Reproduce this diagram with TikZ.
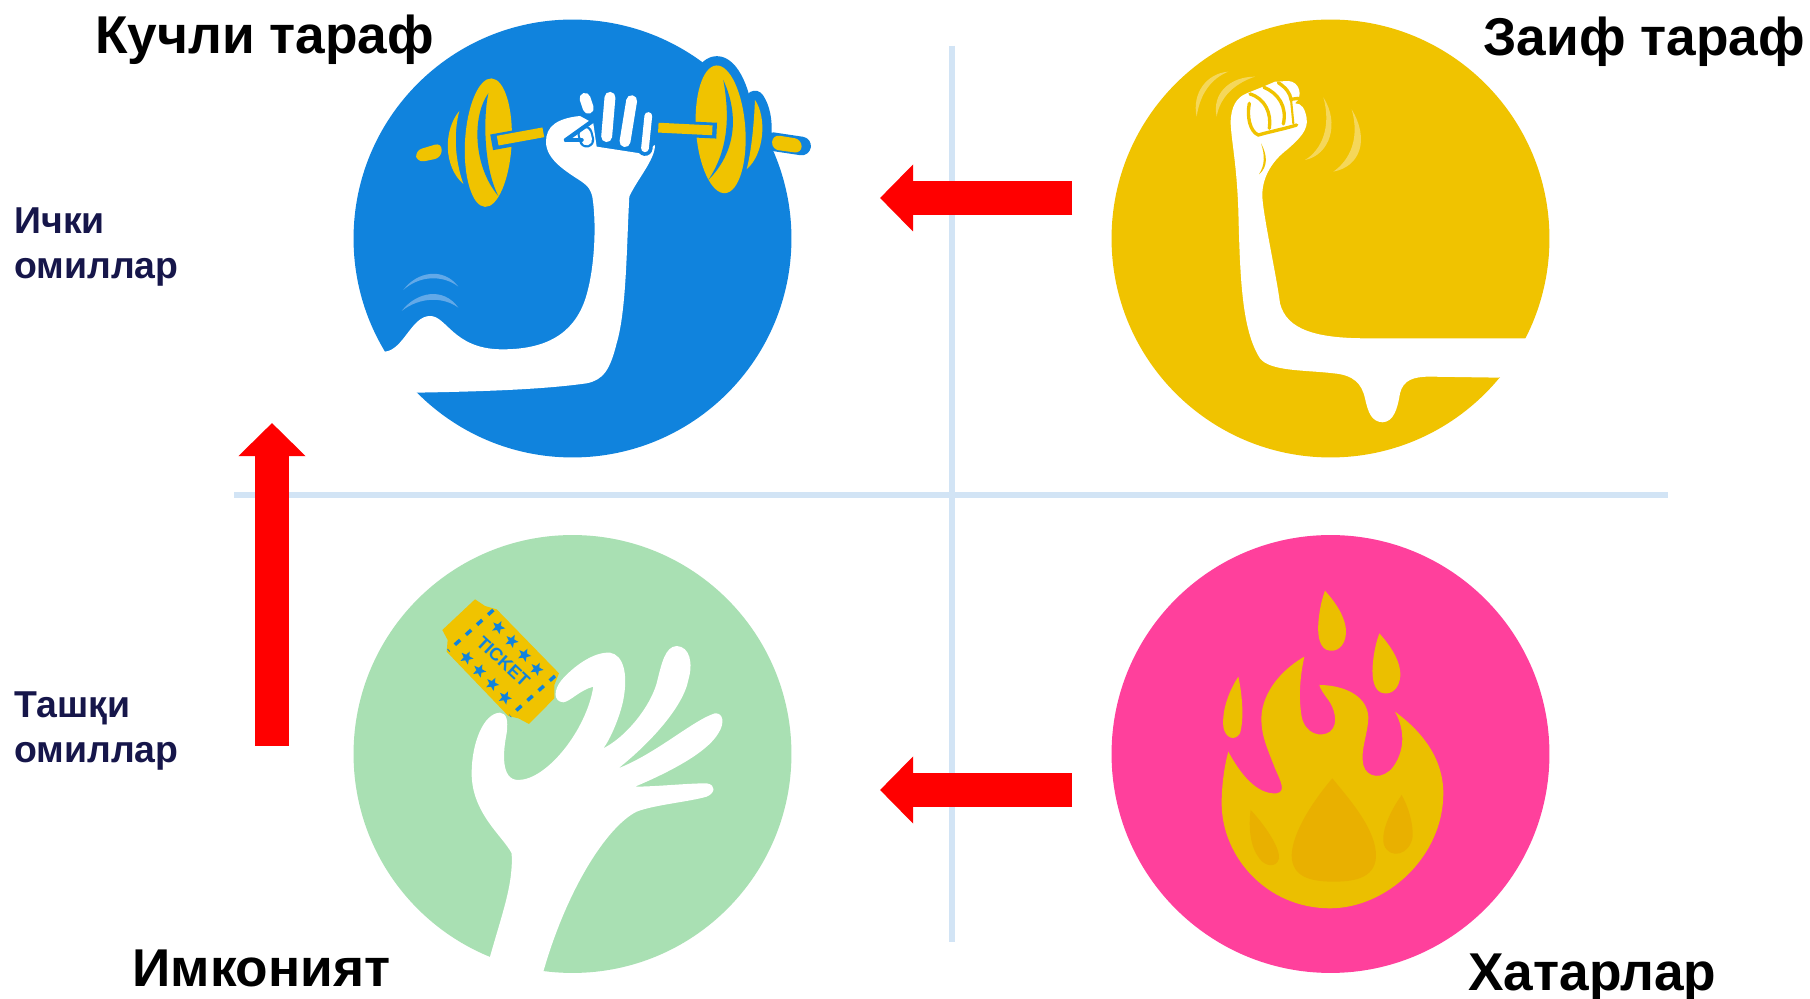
\documentclass[tikz,border=0pt]{standalone}
\usepackage{fontspec}
\setmainfont{Liberation Sans}
\usepackage{xcolor}
\usetikzlibrary{arrows.meta}
\definecolor{strongblue}{HTML}{1083DD}
\definecolor{waveblue}{HTML}{62A9E8}
\definecolor{weakyellow}{HTML}{F0C300}
\definecolor{waveyellow}{HTML}{F5D75A}
\definecolor{chancegreen}{HTML}{A9E0B3}
\definecolor{threatpink}{HTML}{FF409C}
\definecolor{flamecore}{HTML}{E9B000}
\definecolor{axisblue}{HTML}{D2E4F5}
\definecolor{labelnavy}{HTML}{16164A}
\tikzset{
  quadcircle/.style={
    circle,
    minimum size=8.76cm,
    inner sep=0pt
  },
  cropped/.style 2 args={
    shift={(#1,#2)},
    x=0.006667cm,
    y=-0.006667cm
  },
  axisline/.style={
    draw=axisblue,
    line width=3.4pt
  },
  bigarrow/.style={
    -{Triangle[length=18.8pt,width=37pt]},
    line width=18.8pt,
    draw=red
  },
  titletext/.style={
    anchor=base west,
    inner sep=0pt,
    font=\bfseries\fontsize{30.3}{32}\selectfont
  },
  sidelabel/.style={
    anchor=base west,
    align=left,
    inner sep=0pt,
    text=labelnavy,
    font=\bfseries\fontsize{21.3}{26}\selectfont
  },
  fingerout/.style={
    draw=strongblue,
    line width=8.6pt,
    line cap=round
  },
  fingerin/.style={
    draw=white,
    line width=6.2pt,
    line cap=round
  },
  fistline/.style={
    draw=weakyellow,
    line width=1.9pt,
    line cap=round
  },
  platerim/.style={
    draw=strongblue,
    line width=10.6pt,
    line join=round,
    line cap=round
  }
}
\begin{document}
\begin{tikzpicture}[x=0.02cm,y=-0.02cm]
    \useasboundingbox (0,0) rectangle (1810,999);
    \fill[white] (0,0) rectangle (1810,999);

    \coordinate (vtop) at (952,46);
    \coordinate (vbot) at (952,942);
    \coordinate (hleft) at (234,495);
    \coordinate (hright) at (1668,495);
    \draw[axisline] (vtop) -- (vbot);
    \draw[axisline] (hleft) -- (hright);

    \node[quadcircle, fill=strongblue] (strong) at (572.5,238.5) {};
    \node[quadcircle, fill=weakyellow] (weak) at (1330.5,238.5) {};
    \node[quadcircle, fill=chancegreen] (chance) at (572.5,754) {};
    \node[quadcircle, fill=threatpink] (threat) at (1330.5,754) {};

    % barbell
    \begin{scope}[cropped={400}{50}]
        \fill[weakyellow, rounded corners=4pt] (45,302) -- (125,278) -- (125,323) -- (52,338) -- cycle;
        \fill[weakyellow] (178,183) .. controls (130,240) and (130,350) .. (190,402)
            .. controls (165,330) and (160,250) .. (178,183);
        \fill[weakyellow, rotate around={-3:(265,278)}] (265,278) ellipse (70 and 193);
        \fill[strongblue] (265,130) .. controls (215,200) and (220,350) .. (295,438)
            .. controls (250,350) and (250,200) .. (265,130);
        \draw[strongblue, line width=9pt] (275,277) -- (435,248);
        \draw[weakyellow, line width=5.6pt] (293,272) -- (430,247);
        % right side, its blue rim runs over the circle edge
        \draw[platerim] (1065,150) .. controls (1100,200) and (1095,310) .. (1040,358);
        \draw[platerim] (1118,275) -- (1205,288);
        \draw[platerim, rotate around={4:(962,238)}] (962,238) ellipse (74 and 192);
        \fill[weakyellow, rotate around={4:(962,238)}] (962,238) ellipse (74 and 192);
        \draw[strongblue, line width=9pt] (780,234) -- (950,242);
        \draw[weakyellow, line width=5.6pt] (775,233) -- (937,241);
        \fill[strongblue] (970,90) .. controls (1020,200) and (1005,310) .. (925,390)
            .. controls (985,300) and (990,200) .. (970,90);
        \fill[weakyellow] (1065,150) .. controls (1100,200) and (1095,310) .. (1040,358)
            .. controls (1055,300) and (1062,220) .. (1065,150);
        \fill[weakyellow, rounded corners=4pt] (1118,254) -- (1205,268) -- (1205,310) -- (1115,298) -- cycle;
    \end{scope}

    % blue arm
    \begin{scope}[cropped={340}{10}]
        \fill[white] (135,1025) .. controls (190,1020) and (215,918) .. (270,918)
            .. controls (320,918) and (340,1015) .. (480,1018)
            .. controls (620,1020) and (700,970) .. (735,870)
            .. controls (765,780) and (770,640) .. (757,560)
            .. controls (750,535) and (745,530) .. (725,515)
            .. controls (680,485) and (618,450) .. (618,395)
            .. controls (618,350) and (650,325) .. (720,318)
            -- (760,340) -- (770,410) -- (900,430) -- (945,405)
            .. controls (945,450) and (890,510) .. (868,560)
            .. controls (860,700) and (860,900) .. (830,1000)
            .. controls (810,1080) and (790,1110) .. (740,1120)
            .. controls (600,1140) and (400,1145) .. (232,1148)
            -- (120,1150) -- cycle;
        \foreach \xa/\ya/\xb/\yb in {735/265/745/295,735/370/740/390,810/262/800/380,875/272/855/395,925/318/915/415}{
            \draw[fingerout] (\xa,\ya) -- (\xb,\yb);
        }
        \foreach \xa/\ya/\xb/\yb in {735/265/745/295,735/370/740/390,810/262/800/380,875/272/855/395}{
            \draw[fingerin] (\xa,\ya) -- (\xb,\yb);
        }
        \draw[white, line width=4.4pt, line cap=round] (925,318) -- (915,415);
        \draw[strongblue, line width=2.4pt, line cap=round] (678,390) -- (755,335);
        \draw[strongblue, line width=2.4pt, line cap=round] (678,390) -- (725,390);
        \fill[waveblue] (190,840) .. controls (230,785) and (310,770) .. (355,830)
            .. controls (310,795) and (240,795) .. (190,840);
        \fill[waveblue] (185,903) .. controls (230,845) and (310,830) .. (355,893)
            .. controls (310,860) and (240,860) .. (185,903);
    \end{scope}

    % yellow arm
    \begin{scope}[cropped={1100}{10}]
        \fill[white] (1280,985) -- (800,985) .. controls (650,985) and (560,960) .. (540,880)
            .. controls (530,800) and (490,620) .. (487,560)
            .. controls (485,500) and (520,450) .. (560,420)
            .. controls (600,385) and (625,360) .. (620,325)
            .. controls (615,295) and (605,280) .. (585,280)
            .. controls (610,260) and (600,215) .. (565,213)
            -- (525,215) -- (490,230) -- (440,250)
            .. controls (410,262) and (392,290) .. (392,340)
            .. controls (395,400) and (410,460) .. (415,600)
            .. controls (420,800) and (425,960) .. (480,1045)
            .. controls (510,1085) and (620,1080) .. (700,1090)
            .. controls (760,1095) and (785,1120) .. (795,1165)
            .. controls (805,1210) and (815,1235) .. (848,1237)
            .. controls (880,1235) and (892,1200) .. (900,1150)
            .. controls (910,1110) and (940,1100) .. (990,1100)
            -- (1195,1103) -- (1270,1080) -- cycle;
    \end{scope}

    % yellow fist
    \begin{scope}[cropped={1190}{60}]
        \draw[fistline] (178,130) .. controls (170,170) and (180,215) .. (205,225) .. controls (240,215) and (290,205) .. (320,195);
        \draw[fistline] (180,102) .. controls (225,115) and (245,160) .. (238,205);
        \draw[fistline] (222,82) .. controls (265,100) and (292,140) .. (280,192);
        \draw[fistline] (265,68) .. controls (290,85) and (300,100) .. (303,118) -- (325,115);
        \draw[fistline, line width=1.2pt] (303,118) -- (310,190);
        \fill[weakyellow] (213,250) .. controls (232,285) and (235,320) .. (207,343)
            .. controls (225,315) and (225,285) .. (213,250);
        \fill[waveyellow] (20,170) .. controls (5,100) and (50,40) .. (115,35)
            .. controls (65,55) and (30,100) .. (20,170);
        \fill[waveyellow] (80,170) .. controls (65,100) and (120,50) .. (195,50)
            .. controls (135,70) and (90,110) .. (80,170);
        \fill[waveyellow] (400,112) .. controls (450,190) and (420,285) .. (345,300)
            .. controls (395,270) and (425,200) .. (400,112);
        \fill[waveyellow] (485,148) .. controls (540,240) and (510,320) .. (430,335)
            .. controls (480,300) and (510,235) .. (485,148);
    \end{scope}

    % ticket
    \begin{scope}[cropped={435}{590}]
        \fill[weakyellow] (120,28) -- (150,48) -- (185,58) -- (372,250) -- (358,285)
            -- (358,325) -- (282,402) -- (250,385) -- (220,378) -- (35,185) -- (38,150) -- (22,120) -- cycle;
        \coordinate (perfa) at (175,60);
        \coordinate (perfb) at (40,182);
        \coordinate (perfc) at (360,258);
        \coordinate (perfd) at (225,378);
        \draw[strongblue, line width=2pt, dash pattern=on 4pt off 4.5pt] (perfa) -- (perfb);
        \draw[strongblue, line width=2pt, dash pattern=on 4pt off 4.5pt] (perfc) -- (perfd);
        \foreach \sx/\sy in {190/112,230/153,268/195,305/237,95/203,133/242,172/282,210/323}{
            \fill[strongblue, shift={(\sx,\sy)}] (80:21) -- (116:9) -- (152:21) -- (188:9) -- (224:21) -- (260:9) -- (296:21) -- (332:9) -- (8:21) -- (44:9) -- cycle;
        }
        \node[text=strongblue, inner sep=0pt, rotate=-43, font=\bfseries\fontsize{10.2}{11}\selectfont] (ticketword) at (205,215) {TICKET};
    \end{scope}

    % open hand
    \begin{scope}[cropped={340}{530}]
        \fill[white] (450,1280) .. controls (490,1140) and (520,1060) .. (515,970)
            .. controls (490,920) and (395,850) .. (395,730)
            .. controls (395,640) and (430,550) .. (480,548)
            .. controls (500,550) and (505,570) .. (500,610)
            .. controls (490,660) and (480,750) .. (535,750)
            .. controls (620,750) and (740,600) .. (760,470)
            .. controls (720,480) and (690,515) .. (670,517)
            .. controls (640,515) and (640,480) .. (665,450)
            .. controls (700,410) and (760,365) .. (810,368)
            .. controls (850,375) and (865,430) .. (850,510)
            .. controls (840,560) and (810,630) .. (790,655)
            .. controls (860,620) and (930,530) .. (950,460)
            .. controls (965,400) and (975,350) .. (1010,348)
            .. controls (1050,350) and (1060,400) .. (1045,450)
            .. controls (1030,530) and (930,640) .. (835,715)
            .. controls (950,670) and (1060,570) .. (1125,550)
            .. controls (1150,548) and (1155,580) .. (1135,610)
            .. controls (1100,670) and (980,730) .. (885,770)
            .. controls (950,770) and (1040,760) .. (1100,760)
            .. controls (1130,765) and (1125,790) .. (1100,800)
            .. controls (1050,815) and (940,825) .. (890,845)
            .. controls (800,890) and (680,1080) .. (610,1325)
            -- (600,1345) -- (440,1300) -- cycle;
    \end{scope}

    % flame
    \begin{scope}[cropped={1100}{530}]
        \fill[weakyellow!98!black] (385,665) .. controls (420,730) and (470,795) .. (530,790)
            .. controls (560,785) and (540,750) .. (525,715)
            .. controls (500,650) and (480,610) .. (485,550)
            .. controls (495,470) and (560,410) .. (613,380)
            .. controls (600,440) and (595,500) .. (605,560)
            .. controls (615,610) and (660,625) .. (690,605)
            .. controls (720,580) and (700,530) .. (685,510)
            .. controls (670,490) and (660,475) .. (658,465)
            .. controls (720,465) and (800,490) .. (805,560)
            .. controls (805,610) and (780,660) .. (790,705)
            .. controls (800,745) and (850,750) .. (880,710)
            .. controls (915,660) and (915,600) .. (885,545)
            .. controls (960,600) and (1030,680) .. (1030,790)
            .. controls (1030,980) and (860,1135) .. (690,1135)
            .. controls (500,1135) and (365,980) .. (365,820)
            .. controls (365,760) and (375,700) .. (385,665) -- cycle;
        \foreach \dx/\dy in {0/0,163/128}{
            \fill[weakyellow!98!black, shift={(\dx,\dy)}] (675,182) .. controls (700,210) and (740,260) .. (738,310)
                .. controls (735,350) and (710,365) .. (690,362)
                .. controls (660,360) and (652,320) .. (655,280)
                .. controls (658,240) and (665,210) .. (675,182);
        }
        \fill[weakyellow!98!black] (415,440) .. controls (428,500) and (432,570) .. (420,610)
            .. controls (405,635) and (375,625) .. (370,590)
            .. controls (365,530) and (395,470) .. (415,440);
        \fill[flamecore] (697,745) .. controls (750,810) and (830,900) .. (828,980)
            .. controls (825,1050) and (750,1055) .. (700,1055)
            .. controls (630,1055) and (575,1040) .. (575,975)
            .. controls (578,900) and (650,800) .. (697,745);
        \fill[flamecore] (452,840) .. controls (490,880) and (540,950) .. (537,985)
            .. controls (530,1015) and (495,1010) .. (478,985)
            .. controls (450,950) and (445,890) .. (452,840);
        \fill[flamecore] (905,795) .. controls (925,830) and (940,880) .. (938,920)
            .. controls (930,975) and (870,990) .. (852,945)
            .. controls (840,900) and (880,830) .. (905,795);
    \end{scope}

    \coordinate (weakout) at (1072,198);
    \coordinate (strongin) at (880,198);
    \coordinate (threatout) at (1072,790);
    \coordinate (threatin) at (880,790);
    \coordinate (chanceout) at (272,746);
    \coordinate (chancein) at (272,423);
    \draw[bigarrow] (weakout) -- (strongin);
    \draw[bigarrow] (threatout) -- (threatin);
    \draw[bigarrow] (chanceout) -- (chancein);

    \node[titletext] (strongtitle) at (95,54) {Кучли тараф};
    \node[titletext] (weaktitle) at (1483,56) {Заиф тараф};
    \node[titletext] (chancetitle) at (132,987) {Имконият};
    \node[titletext] (threattitle) at (1468,990) {Хатарлар};
    \node[sidelabel] (innerlabel) at (14,279) {Ички\\омиллар};
    \node[sidelabel] (outerlabel) at (14,763) {Ташқи\\омиллар};
\end{tikzpicture}
\end{document}
